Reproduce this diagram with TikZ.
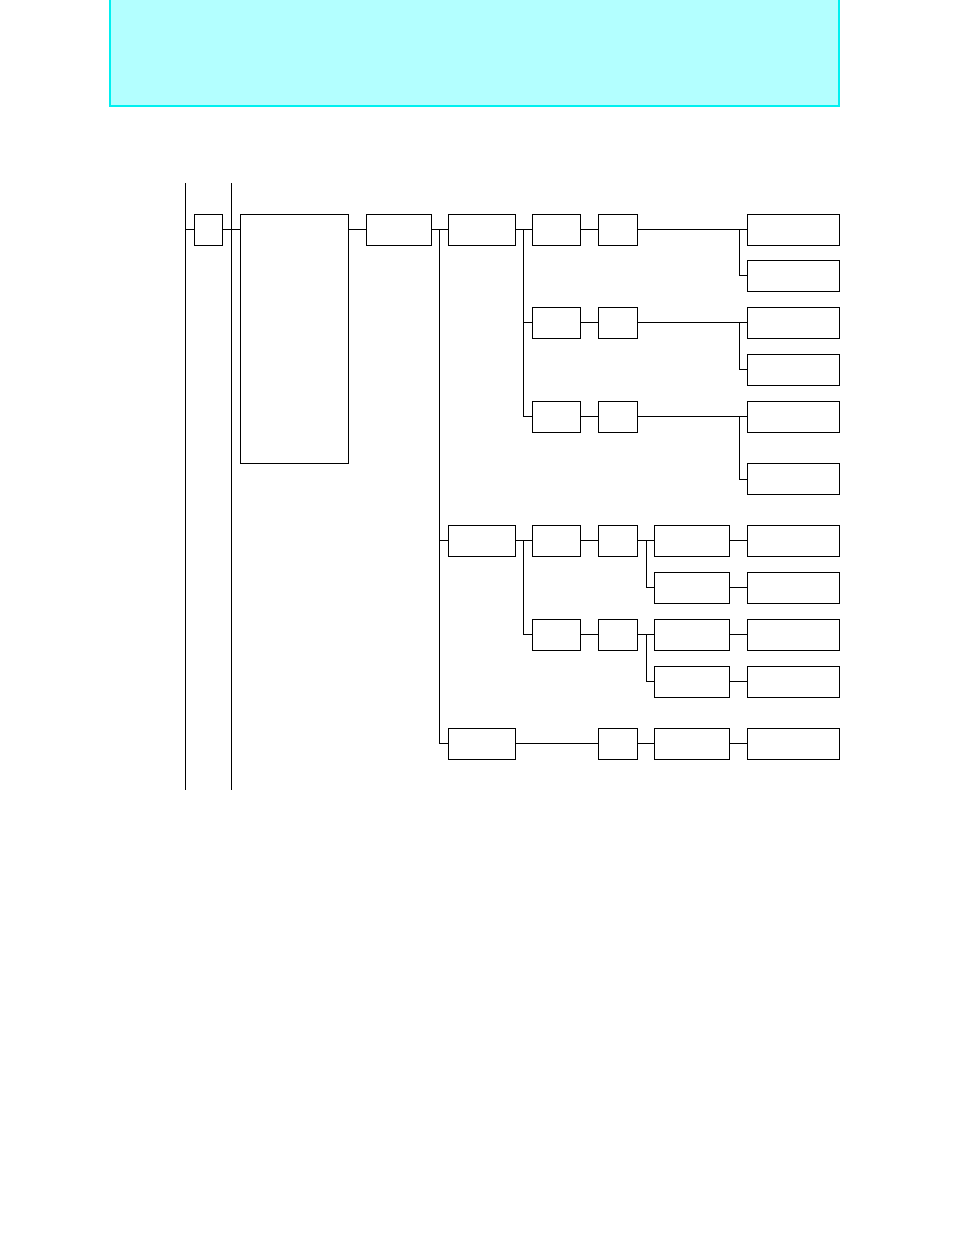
\documentclass[tikz,border=0pt]{standalone}
\usepackage{xcolor}
\usepackage{tikz}
\definecolor{hdrfill}{HTML}{B3FFFF}
\definecolor{hdrline}{HTML}{00F0F0}

\begin{document}
\begin{tikzpicture}[x=1pt, y=-1pt, line width=0.9pt,
  box/.style={draw, minimum height=31pt, inner sep=0pt},
  wire/.style={line width=0.9pt}]
  \useasboundingbox (0,0) rectangle (954,1235);

  % --- header band ---
  \draw[hdrline, fill=hdrfill, line width=1.3pt] (110,-2) rectangle (839,106);

  % --- the two rails ---
  \coordinate (railLt) at (185,183);
  \coordinate (railLb) at (185,790);
  \coordinate (railRt) at (231,183);
  \coordinate (railRb) at (231,790);
  \draw[wire] (railLt) -- (railLb);
  \draw[wire] (railRt) -- (railRb);

  % --- first stages ---
  \node[box, minimum width=28pt] (cA) at (208,229.5) {};
  \node[box, minimum width=108pt, minimum height=249pt] (cB) at (294,338.5) {};
  \node[box, minimum width=65pt] (cC) at (398.5,229.5) {};
  \draw[wire] (cA.west -| railLt) -- (cA.west);
  \draw[wire] (cA.east) -- (cA.east -| cB.west);
  \draw[wire] (cB.east |- cC.west) -- (cC.west);

  % --- branch D ---
  \foreach \n/\y in {1/229.5,2/540.5,3/743.5}{
    \node[box, minimum width=67pt] (cD\n) at (481.5,\y) {};
  }
  \coordinate (jD) at (439,229.5);
  \draw[wire] (cC.east) -- (cD1.west);
  \draw[wire] (jD) |- (cD2.west);
  \draw[wire] (jD) |- (cD3.west);

  % --- stages E and F ---
  \foreach \n/\y in {1/229.5,2/322.5,3/416.5,4/540.5,5/634.5}{
    \node[box, minimum width=48pt] (cE\n) at (556,\y) {};
    \node[box, minimum width=39pt] (cF\n) at (617.5,\y) {};
    \draw[wire] (cE\n.east) -- (cF\n.west);
  }
  \node[box, minimum width=39pt] (cF6) at (617.5,743.5) {};
  \coordinate (jE1) at (523,229.5);
  \coordinate (jE2) at (523,540.5);
  \draw[wire] (cD1.east) -- (cE1.west);
  \draw[wire] (jE1) |- (cE2.west);
  \draw[wire] (jE1) |- (cE3.west);
  \draw[wire] (cD2.east) -- (cE4.west);
  \draw[wire] (jE2) |- (cE5.west);
  \draw[wire] (cD3.east) -- (cF6.west);

  % --- outputs G ---
  \foreach \n/\y in {1/229.5,2/275.5,3/322.5,4/369.5,5/416.5,6/479}{
    \node[box, minimum width=92pt] (cG\n) at (793,\y) {};
  }
  \foreach \f/\a/\b in {1/1/2,2/3/4,3/5/6}{
    \coordinate (jG\f) at (739,0 |- cG\a.west);
    \draw[wire] (cF\f.east) -- (cG\a.west);
    \draw[wire] (jG\f) |- (cG\b.west);
  }

  % --- stages H and I ---
  \foreach \n/\y in {1/540.5,2/587.5,3/634.5,4/681.5,5/743.5}{
    \node[box, minimum width=75pt] (cH\n) at (691.5,\y) {};
    \node[box, minimum width=92pt] (cI\n) at (793,\y) {};
    \draw[wire] (cH\n.east) -- (cI\n.west);
  }
  \coordinate (jH1) at (646,540.5);
  \coordinate (jH2) at (646,634.5);
  \draw[wire] (cF4.east) -- (cH1.west);
  \draw[wire] (jH1) |- (cH2.west);
  \draw[wire] (cF5.east) -- (cH3.west);
  \draw[wire] (jH2) |- (cH4.west);
  \draw[wire] (cF6.east) -- (cH5.west);
\end{tikzpicture}
\end{document}
